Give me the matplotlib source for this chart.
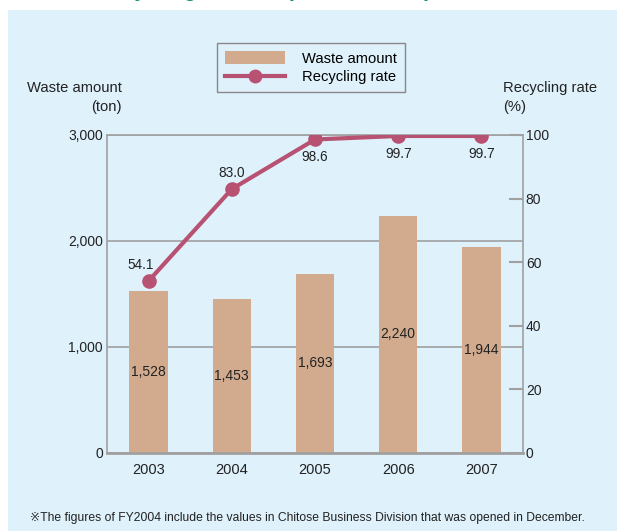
import matplotlib
matplotlib.use('Agg')

import matplotlib.pyplot as plt
from matplotlib.patches import Rectangle
from matplotlib.lines import Line2D

# ----- data -----
years = ["2003", "2004", "2005", "2006", "2007"]
waste_ton = [1528, 1453, 1693, 2240, 1944]
recycling_rate = [54.1, 83.0, 98.6, 99.7, 99.7]
waste_labels = ["1,528", "1,453", "1,693", "2,240", "1,944"]
rate_labels = ["54.1", "83.0", "98.6", "99.7", "99.7"]

BG = "#dff1fb"
BAR = "#d2ab8e"
LINE = "#b85272"
GRID = "#a0a0a0"
TXT = "#222222"

plt.rcParams['font.family'] = ['Liberation Sans', 'DejaVu Sans']

W, H = 617, 531
fig = plt.figure(figsize=(W / 100, H / 100), dpi=100)
fig.patch.set_facecolor("white")

# light blue panel + cut-off green heading
fig.patches.append(Rectangle((8 / W, 0), 1, 1 - 10 / H, transform=fig.transFigure,
                             facecolor=BG, edgecolor="none", zorder=-5))
fig.text(95 / W, 1 + 4 / H, "Recycling Results (FY2003-2007)", ha="left", va="baseline",
         fontsize=15.5, fontweight="bold", color="#17945a")

# plot area in pixels: x 107..523, y 135..453
ax = fig.add_axes([107 / W, 1 - 453 / H, (523 - 107) / W, (453 - 135) / H])
ax.set_facecolor("none")
x = range(len(years))

ax.bar(x, waste_ton, width=0.46, color=BAR, zorder=2)
for xi, v, lab in zip(x, waste_ton, waste_labels):
    ax.text(xi, v / 2, lab, ha="center", va="center", fontsize=10, color=TXT, zorder=3)

ax.set_xlim(-0.5, 4.5)
ax.set_ylim(0, 3000)
ax.set_yticks([0, 1000, 2000, 3000])
ax.set_yticklabels(["0", "1,000", "2,000", "3,000"])
ax.set_xticks(list(x))
ax.set_xticklabels(years)
ax.tick_params(axis="y", length=0, pad=3, labelsize=10, colors=TXT)
ax.tick_params(axis="x", length=0, pad=7, labelsize=10.5, colors=TXT)
ax.grid(axis="y", color=GRID, linewidth=1.2, zorder=1)
ax.set_axisbelow(True)
for s in ax.spines.values():
    s.set_color(GRID)
    s.set_linewidth(1.2)
ax.spines["bottom"].set_linewidth(2)

ax2 = ax.twinx()
ax2.set_ylim(0, 100)
ax2.set_yticks([0, 20, 40, 60, 80, 100])
ax2.tick_params(axis="y", direction="in", length=10, width=1.5, color=GRID,
                pad=2, labelsize=10, labelcolor=TXT)
for s in ax2.spines.values():
    s.set_visible(False)
ax2.plot(x, recycling_rate, color=LINE, linewidth=3, marker="o", markersize=9.5,
         zorder=4)

# value labels on the line
offsets = [(-8, 16), (0, 16), (0, -18), (0, -18), (0, -18)]
for xi, v, lab, (dx, dy) in zip(x, recycling_rate, rate_labels, offsets):
    ax2.annotate(lab, (xi, v), xytext=(dx * 0.72, dy * 0.72), textcoords="offset points",
                 ha="center", va="center", fontsize=9.8, color=TXT)

# axis titles
fig.text(122 / W, 1 - 88 / H, "Waste amount", ha="right", va="center", fontsize=10.6, color=TXT)
fig.text(122 / W, 1 - 107 / H, "(ton)", ha="right", va="center", fontsize=10.6, color=TXT)
fig.text(503 / W, 1 - 88 / H, "Recycling rate", ha="left", va="center", fontsize=10.6, color=TXT)
fig.text(503 / W, 1 - 107 / H, "(%)", ha="left", va="center", fontsize=10.6, color=TXT)

# legend
handles = [Rectangle((0, 0), 1, 1, facecolor=BAR, edgecolor="none"),
           Line2D([], [], color=LINE, linewidth=3, marker="o", markersize=9)]
leg = fig.legend(handles, ["Waste amount", "Recycling rate"], loc="upper left",
                 bbox_to_anchor=(217 / W, 1 - 43 / H), fontsize=10.6, frameon=True,
                 fancybox=False, edgecolor="#888888", facecolor=BG, framealpha=1,
                 handlelength=4.1, handleheight=0.95, labelspacing=0.3,
                 borderpad=0.55, handletextpad=1.1, borderaxespad=0)
leg.get_frame().set_linewidth(1)

# footnote
fig.text(30 / W, 1 - 518 / H,
         "\u203bThe figures of FY2004 include the values in Chitose Business Division that was opened in December.",
         ha="left", va="center", fontsize=8.7, color=TXT)

fig.savefig("out.png", dpi=100, facecolor=fig.get_facecolor())
